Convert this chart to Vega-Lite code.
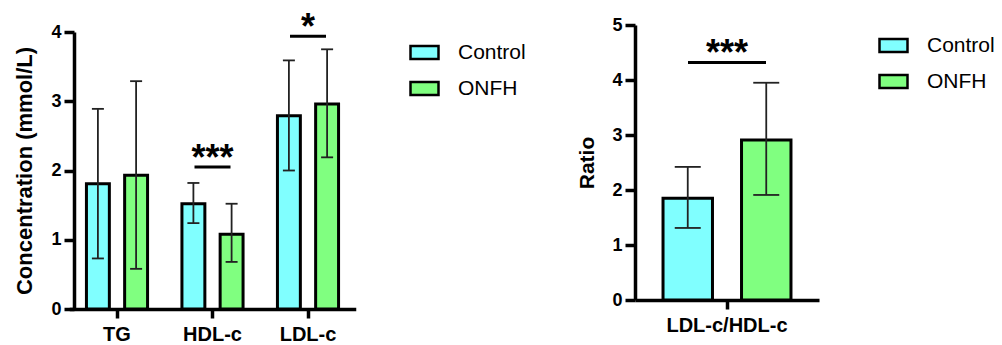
{
  "$schema": "https://vega.github.io/schema/vega-lite/v6.json",
  "background": "white",
  "padding": {"left": 13, "top": 10, "right": 2, "bottom": 2},
  "config": {
    "font": "Liberation Sans",
    "view": {"stroke": null},
    "axis": {
      "grid": false,
      "domainColor": "black",
      "domainWidth": 3.5,
      "tickColor": "black",
      "tickWidth": 3.5,
      "labelColor": "black",
      "labelFont": "Liberation Sans",
      "labelFontWeight": "bold",
      "titleColor": "black",
      "titleFont": "Liberation Sans",
      "titleFontWeight": "bold"
    },
    "axisX": {"labelAngle": 0, "labelFontSize": 20, "tickSize": 9, "labelPadding": 6, "title": null},
    "axisY": {"labelFontSize": 18, "tickSize": 10, "labelPadding": 3, "titleFontSize": 22, "titlePadding": 14, "format": "d"}
  },
  "datasets": {
    "conc": [
      {"group": "TG", "cond": "Control", "mean": 1.81, "lo": 0.73, "hi": 2.89},
      {"group": "TG", "cond": "ONFH", "mean": 1.93, "lo": 0.58, "hi": 3.29},
      {"group": "HDL-c", "cond": "Control", "mean": 1.52, "lo": 1.24, "hi": 1.82},
      {"group": "HDL-c", "cond": "ONFH", "mean": 1.08, "lo": 0.68, "hi": 1.52},
      {"group": "LDL-c", "cond": "Control", "mean": 2.79, "lo": 2.0, "hi": 3.59},
      {"group": "LDL-c", "cond": "ONFH", "mean": 2.96, "lo": 2.19, "hi": 3.75}
    ],
    "ratio": [
      {"group": "LDL-c/HDL-c", "cond": "Control", "mean": 1.85, "lo": 1.31, "hi": 2.42},
      {"group": "LDL-c/HDL-c", "cond": "ONFH", "mean": 2.91, "lo": 1.91, "hi": 3.95}
    ],
    "sigConc": [
      {"group": "HDL-c", "y": 2.05, "label": "***"},
      {"group": "LDL-c", "y": 3.94, "label": "*"}
    ],
    "sigRatio": [
      {"group": "LDL-c/HDL-c", "y": 4.32, "label": "***"}
    ]
  },
  "hconcat": [
    {
      "width": 278,
      "height": 284,
      "layer": [
        {
          "data": {"name": "conc"},
          "mark": {"type": "bar", "stroke": "black", "strokeWidth": 3, "opacity": 1},
          "encoding": {
            "x": {"field": "group", "type": "nominal", "sort": ["TG", "HDL-c", "LDL-c"], "scale": {"paddingInner": 0, "paddingOuter": 0, "range": [-4.75, 281.75]},
                  "axis": {"domainWidth": 3.5, "domainColor": "black", "tickWidth": 3.5, "tickColor": "black", "tickSize": 9}},
            "xOffset": {"field": "cond", "type": "nominal", "sort": ["Control", "ONFH"], "scale": {"paddingInner": 0.4, "paddingOuter": 0.45}},
            "y": {"field": "mean", "type": "quantitative", "title": "Concentration (mmol/L)", "scale": {"domain": [0, 4], "nice": false, "range": [284, 7]},
                  "axis": {"values": [0, 1, 2, 3, 4], "format": "d", "domainWidth": 3.5, "domainColor": "black", "tickWidth": 3.5, "tickColor": "black", "tickSize": 10}},
            "color": {
              "field": "cond", "type": "nominal",
              "scale": {"domain": ["Control", "ONFH"], "range": ["#80FFFF", "#80FF80"]},
              "legend": {"title": null, "orient": "right", "offset": 45, "padding": 12, "symbolType": "M-1,-0.46H1V0.46H-1Z", "symbolSize": 784, "symbolStrokeColor": "black", "symbolStrokeWidth": 2.5, "symbolOpacity": 1, "labelFontSize": 21, "labelFont": "Liberation Sans", "labelColor": "black", "labelOffset": 18, "rowPadding": 9}
            }
          }
        },
        {
          "data": {"name": "conc"},
          "mark": {"type": "rule", "color": "#222", "strokeWidth": 1.8},
          "encoding": {
            "x": {"field": "group", "type": "nominal", "sort": ["TG", "HDL-c", "LDL-c"]},
            "xOffset": {"field": "cond", "type": "nominal", "sort": ["Control", "ONFH"]},
            "y": {"field": "lo", "type": "quantitative", "title": "Concentration (mmol/L)"},
            "y2": {"field": "hi"}
          }
        },
        {
          "data": {"name": "conc"},
          "mark": {"type": "tick", "color": "#222", "opacity": 1, "thickness": 1.8, "size": 12, "orient": "horizontal"},
          "encoding": {
            "x": {"field": "group", "type": "nominal", "sort": ["TG", "HDL-c", "LDL-c"]},
            "xOffset": {"field": "cond", "type": "nominal", "sort": ["Control", "ONFH"]},
            "y": {"field": "lo", "type": "quantitative", "title": "Concentration (mmol/L)"}
          }
        },
        {
          "data": {"name": "conc"},
          "mark": {"type": "tick", "color": "#222", "opacity": 1, "thickness": 1.8, "size": 12, "orient": "horizontal"},
          "encoding": {
            "x": {"field": "group", "type": "nominal", "sort": ["TG", "HDL-c", "LDL-c"]},
            "xOffset": {"field": "cond", "type": "nominal", "sort": ["Control", "ONFH"]},
            "y": {"field": "hi", "type": "quantitative", "title": "Concentration (mmol/L)"}
          }
        },
        {
          "data": {"name": "sigConc"},
          "mark": {"type": "tick", "color": "black", "opacity": 1, "thickness": 3, "size": 36, "orient": "horizontal"},
          "encoding": {
            "x": {"field": "group", "type": "nominal", "sort": ["TG", "HDL-c", "LDL-c"]},
            "y": {"field": "y", "type": "quantitative", "title": "Concentration (mmol/L)"}
          }
        },
        {
          "data": {"name": "sigConc"},
          "mark": {"type": "text", "color": "black", "fontSize": 36, "fontWeight": "bold", "font": "Liberation Sans", "baseline": "alphabetic", "align": "center", "dy": 3},
          "encoding": {
            "x": {"field": "group", "type": "nominal", "sort": ["TG", "HDL-c", "LDL-c"]},
            "y": {"field": "y", "type": "quantitative", "title": "Concentration (mmol/L)"},
            "text": {"field": "label"}
          }
        }
      ]
    },
    {
      "width": 184,
      "height": 275,
      "layer": [
        {
          "data": {"name": "ratio"},
          "mark": {"type": "bar", "stroke": "black", "strokeWidth": 3, "opacity": 1},
          "encoding": {
            "x": {"field": "group", "type": "nominal", "scale": {"paddingInner": 0, "paddingOuter": 0},
                  "axis": {"domainWidth": 3.5, "domainColor": "black", "tickWidth": 3.5, "tickColor": "black", "tickSize": 9}},
            "xOffset": {"field": "cond", "type": "nominal", "sort": ["Control", "ONFH"], "scale": {"paddingInner": 0.37, "paddingOuter": 0.357}},
            "y": {"field": "mean", "type": "quantitative", "title": "Ratio", "scale": {"domain": [0, 5], "nice": false},
                  "axis": {"values": [0, 1, 2, 3, 4, 5], "format": "d", "titleFontSize": 21, "domainWidth": 3.5, "domainColor": "black", "tickWidth": 3.5, "tickColor": "black", "tickSize": 10}},
            "color": {
              "field": "cond", "type": "nominal",
              "scale": {"domain": ["Control", "ONFH"], "range": ["#80FFFF", "#80FF80"]},
              "legend": {"title": null, "orient": "right", "offset": 54, "padding": 5, "symbolType": "M-1,-0.46H1V0.46H-1Z", "symbolSize": 784, "symbolStrokeColor": "black", "symbolStrokeWidth": 2.5, "symbolOpacity": 1, "labelFontSize": 21, "labelFont": "Liberation Sans", "labelColor": "black", "labelOffset": 18, "rowPadding": 9}
            }
          }
        },
        {
          "data": {"name": "ratio"},
          "mark": {"type": "rule", "color": "#222", "strokeWidth": 1.8},
          "encoding": {
            "x": {"field": "group", "type": "nominal"},
            "xOffset": {"field": "cond", "type": "nominal", "sort": ["Control", "ONFH"]},
            "y": {"field": "lo", "type": "quantitative", "title": "Ratio"},
            "y2": {"field": "hi"}
          }
        },
        {
          "data": {"name": "ratio"},
          "mark": {"type": "tick", "color": "#222", "opacity": 1, "thickness": 1.8, "size": 26, "orient": "horizontal"},
          "encoding": {
            "x": {"field": "group", "type": "nominal"},
            "xOffset": {"field": "cond", "type": "nominal", "sort": ["Control", "ONFH"]},
            "y": {"field": "lo", "type": "quantitative", "title": "Ratio"}
          }
        },
        {
          "data": {"name": "ratio"},
          "mark": {"type": "tick", "color": "#222", "opacity": 1, "thickness": 1.8, "size": 26, "orient": "horizontal"},
          "encoding": {
            "x": {"field": "group", "type": "nominal"},
            "xOffset": {"field": "cond", "type": "nominal", "sort": ["Control", "ONFH"]},
            "y": {"field": "hi", "type": "quantitative", "title": "Ratio"}
          }
        },
        {
          "data": {"name": "sigRatio"},
          "mark": {"type": "tick", "color": "black", "opacity": 1, "thickness": 3, "size": 78, "orient": "horizontal"},
          "encoding": {
            "x": {"field": "group", "type": "nominal"},
            "y": {"field": "y", "type": "quantitative", "title": "Ratio"}
          }
        },
        {
          "data": {"name": "sigRatio"},
          "mark": {"type": "text", "color": "black", "fontSize": 36, "fontWeight": "bold", "font": "Liberation Sans", "baseline": "alphabetic", "align": "center", "dy": 3},
          "encoding": {
            "x": {"field": "group", "type": "nominal"},
            "y": {"field": "y", "type": "quantitative", "title": "Ratio"},
            "text": {"field": "label"}
          }
        }
      ]
    }
  ],
  "spacing": 38,
  "resolve": {"scale": {"color": "independent", "y": "independent", "x": "independent", "xOffset": "independent"}, "legend": {"color": "independent"}}
}
